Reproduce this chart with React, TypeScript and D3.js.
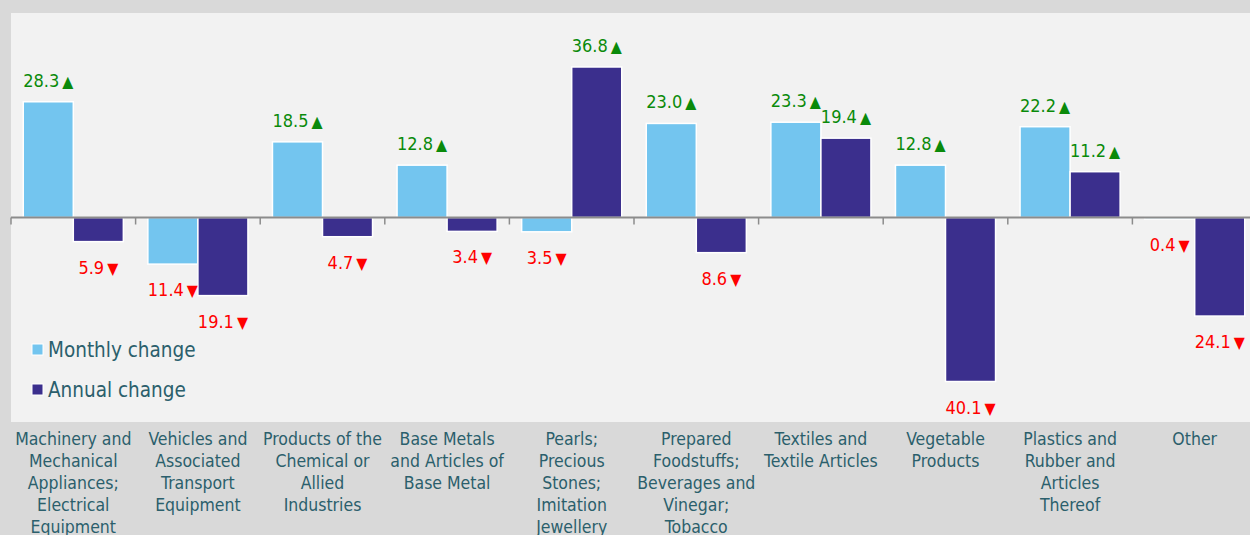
import React from 'react'
import * as d3 from 'd3'

const categories = [
  'Machinery and Mechanical Appliances; Electrical Equipment',
  'Vehicles and Associated Transport Equipment',
  'Products of the Chemical or Allied Industries',
  'Base Metals and Articles of Base Metal',
  'Pearls; Precious Stones; Imitation Jewellery',
  'Prepared Foodstuffs; Beverages and Vinegar; Tobacco',
  'Textiles and Textile Articles',
  'Vegetable Products',
  'Plastics and Rubber and Articles Thereof',
  'Other',
]

// category labels as wrapped in the picture
const categoryLines = [
  ['Machinery and', 'Mechanical', 'Appliances;', 'Electrical', 'Equipment'],
  ['Vehicles and', 'Associated', 'Transport', 'Equipment'],
  ['Products of the', 'Chemical or', 'Allied', 'Industries'],
  ['Base Metals', 'and Articles of', 'Base Metal'],
  ['Pearls;', 'Precious', 'Stones;', 'Imitation', 'Jewellery'],
  ['Prepared', 'Foodstuffs;', 'Beverages and', 'Vinegar;', 'Tobacco'],
  ['Textiles and', 'Textile Articles'],
  ['Vegetable', 'Products'],
  ['Plastics and', 'Rubber and', 'Articles', 'Thereof'],
  ['Other'],
]

const seriesNames = ['Monthly change', 'Annual change']
const monthlyChange = [28.3, -11.4, 18.5, 12.8, -3.5, 23.0, 23.3, 12.8, 22.2, -0.4]
const annualChange = [-5.9, -19.1, -4.7, -3.4, 36.8, -8.6, 19.4, -40.1, 11.2, -24.1]
const yDomain = [-50, 50]

const titleText = 'Change in Top Non-Oil Imports by Section, Monthly and Yearly (%)'

const W = 1250
const H = 535
const panelLeft = 11
const panelTop = 13
const panelBottom = 422
const plotRight = 1257

const colors = ['#73c5ef', '#3b2f8d']
const upColor = '#0a8a0a'
const downColor = '#ff0000'
const textColor = '#2b5f6c'
const font = '"DejaVu Sans Condensed", "DejaVu Sans", sans-serif'

function App() {
  const x0 = d3.scaleBand<string>().domain(categories).range([panelLeft, plotRight]).padding(0)
  const x1 = d3
    .scaleBand<string>()
    .domain(seriesNames)
    .range([0, x0.bandwidth()])
    .paddingInner(0)
    .paddingOuter(0.245)
  const y = d3.scaleLinear().domain(yDomain).range([panelBottom, panelTop])
  const y0 = y(0)

  const seriesValues = [monthlyChange, annualChange]

  return (
    <svg
      width={W}
      height={H}
      style={{ position: 'fixed', left: 0, top: 0, background: '#d9d9d9', fontFamily: font }}
    >
      <rect x={0} y={0} width={W} height={H} fill="#d9d9d9" />
      <text
        x={(panelLeft + plotRight) / 2}
        y={-4}
        textAnchor="middle"
        fontSize={22}
        fontWeight="bold"
        fill={textColor}
      >
        {titleText}
      </text>
      <rect x={panelLeft} y={panelTop} width={W - panelLeft} height={panelBottom - panelTop} fill="#f2f2f2" />

      {/* bars */}
      {categories.map((c, i) => (
        <g key={c} transform={`translate(${x0(c)},0)`}>
          {seriesNames.map((s, k) => {
            const v = seriesValues[k][i]
            const yv = y(v)
            return (
              <rect
                key={s}
                x={x1(s)}
                y={Math.min(yv, y0)}
                width={x1.bandwidth()}
                height={Math.abs(yv - y0)}
                fill={colors[k]}
                stroke="#ffffff"
                strokeWidth={1.5}
              />
            )
          })}
        </g>
      ))}

      {/* zero axis with ticks between categories */}
      <line x1={panelLeft} x2={W} y1={y0} y2={y0} stroke="#8c8c8c" strokeWidth={2} />
      {categories.map((c) => (
        <line
          key={c}
          x1={x0(c)}
          x2={x0(c)}
          y1={y0}
          y2={y0 + 7}
          stroke="#8c8c8c"
          strokeWidth={1.5}
        />
      ))}

      {/* value labels */}
      {categories.map((c, i) =>
        seriesNames.map((s, k) => {
          const v = seriesValues[k][i]
          const cx = (x0(c) ?? 0) + (x1(s) ?? 0) + x1.bandwidth() / 2
          const up = v >= 0
          const ty = up ? y(v) - 15 : y(v) + 32
          const col = up ? upColor : downColor
          return (
            <text key={c + s} x={cx} y={ty} textAnchor="middle" fontSize={18} fill={col}>
              {Math.abs(v).toFixed(1)}
              <tspan dx={3} fontSize={16}>{up ? '▲' : '▼'}</tspan>
            </text>
          )
        })
      )}

      {/* legend */}
      {seriesNames.map((s, k) => (
        <g key={s} transform={`translate(32,${350 + k * 40})`}>
          <rect x={0} y={-6} width={11} height={11} fill={colors[k]} stroke="#ffffff" strokeWidth={1} />
          <text x={16} y={7} fontSize={20.5} fill={textColor}>
            {s}
          </text>
        </g>
      ))}

      {/* category labels */}
      {categories.map((c, i) => (
        <text
          key={c}
          x={(x0(c) ?? 0) + x0.bandwidth() / 2}
          y={445}
          textAnchor="middle"
          fontSize={17.5}
          fill={textColor}
        >
          {categoryLines[i].map((l, j) => (
            <tspan key={j} x={(x0(c) ?? 0) + x0.bandwidth() / 2} dy={j === 0 ? 0 : 22}>
              {l}
            </tspan>
          ))}
        </text>
      ))}
    </svg>
  )
}

export default App
